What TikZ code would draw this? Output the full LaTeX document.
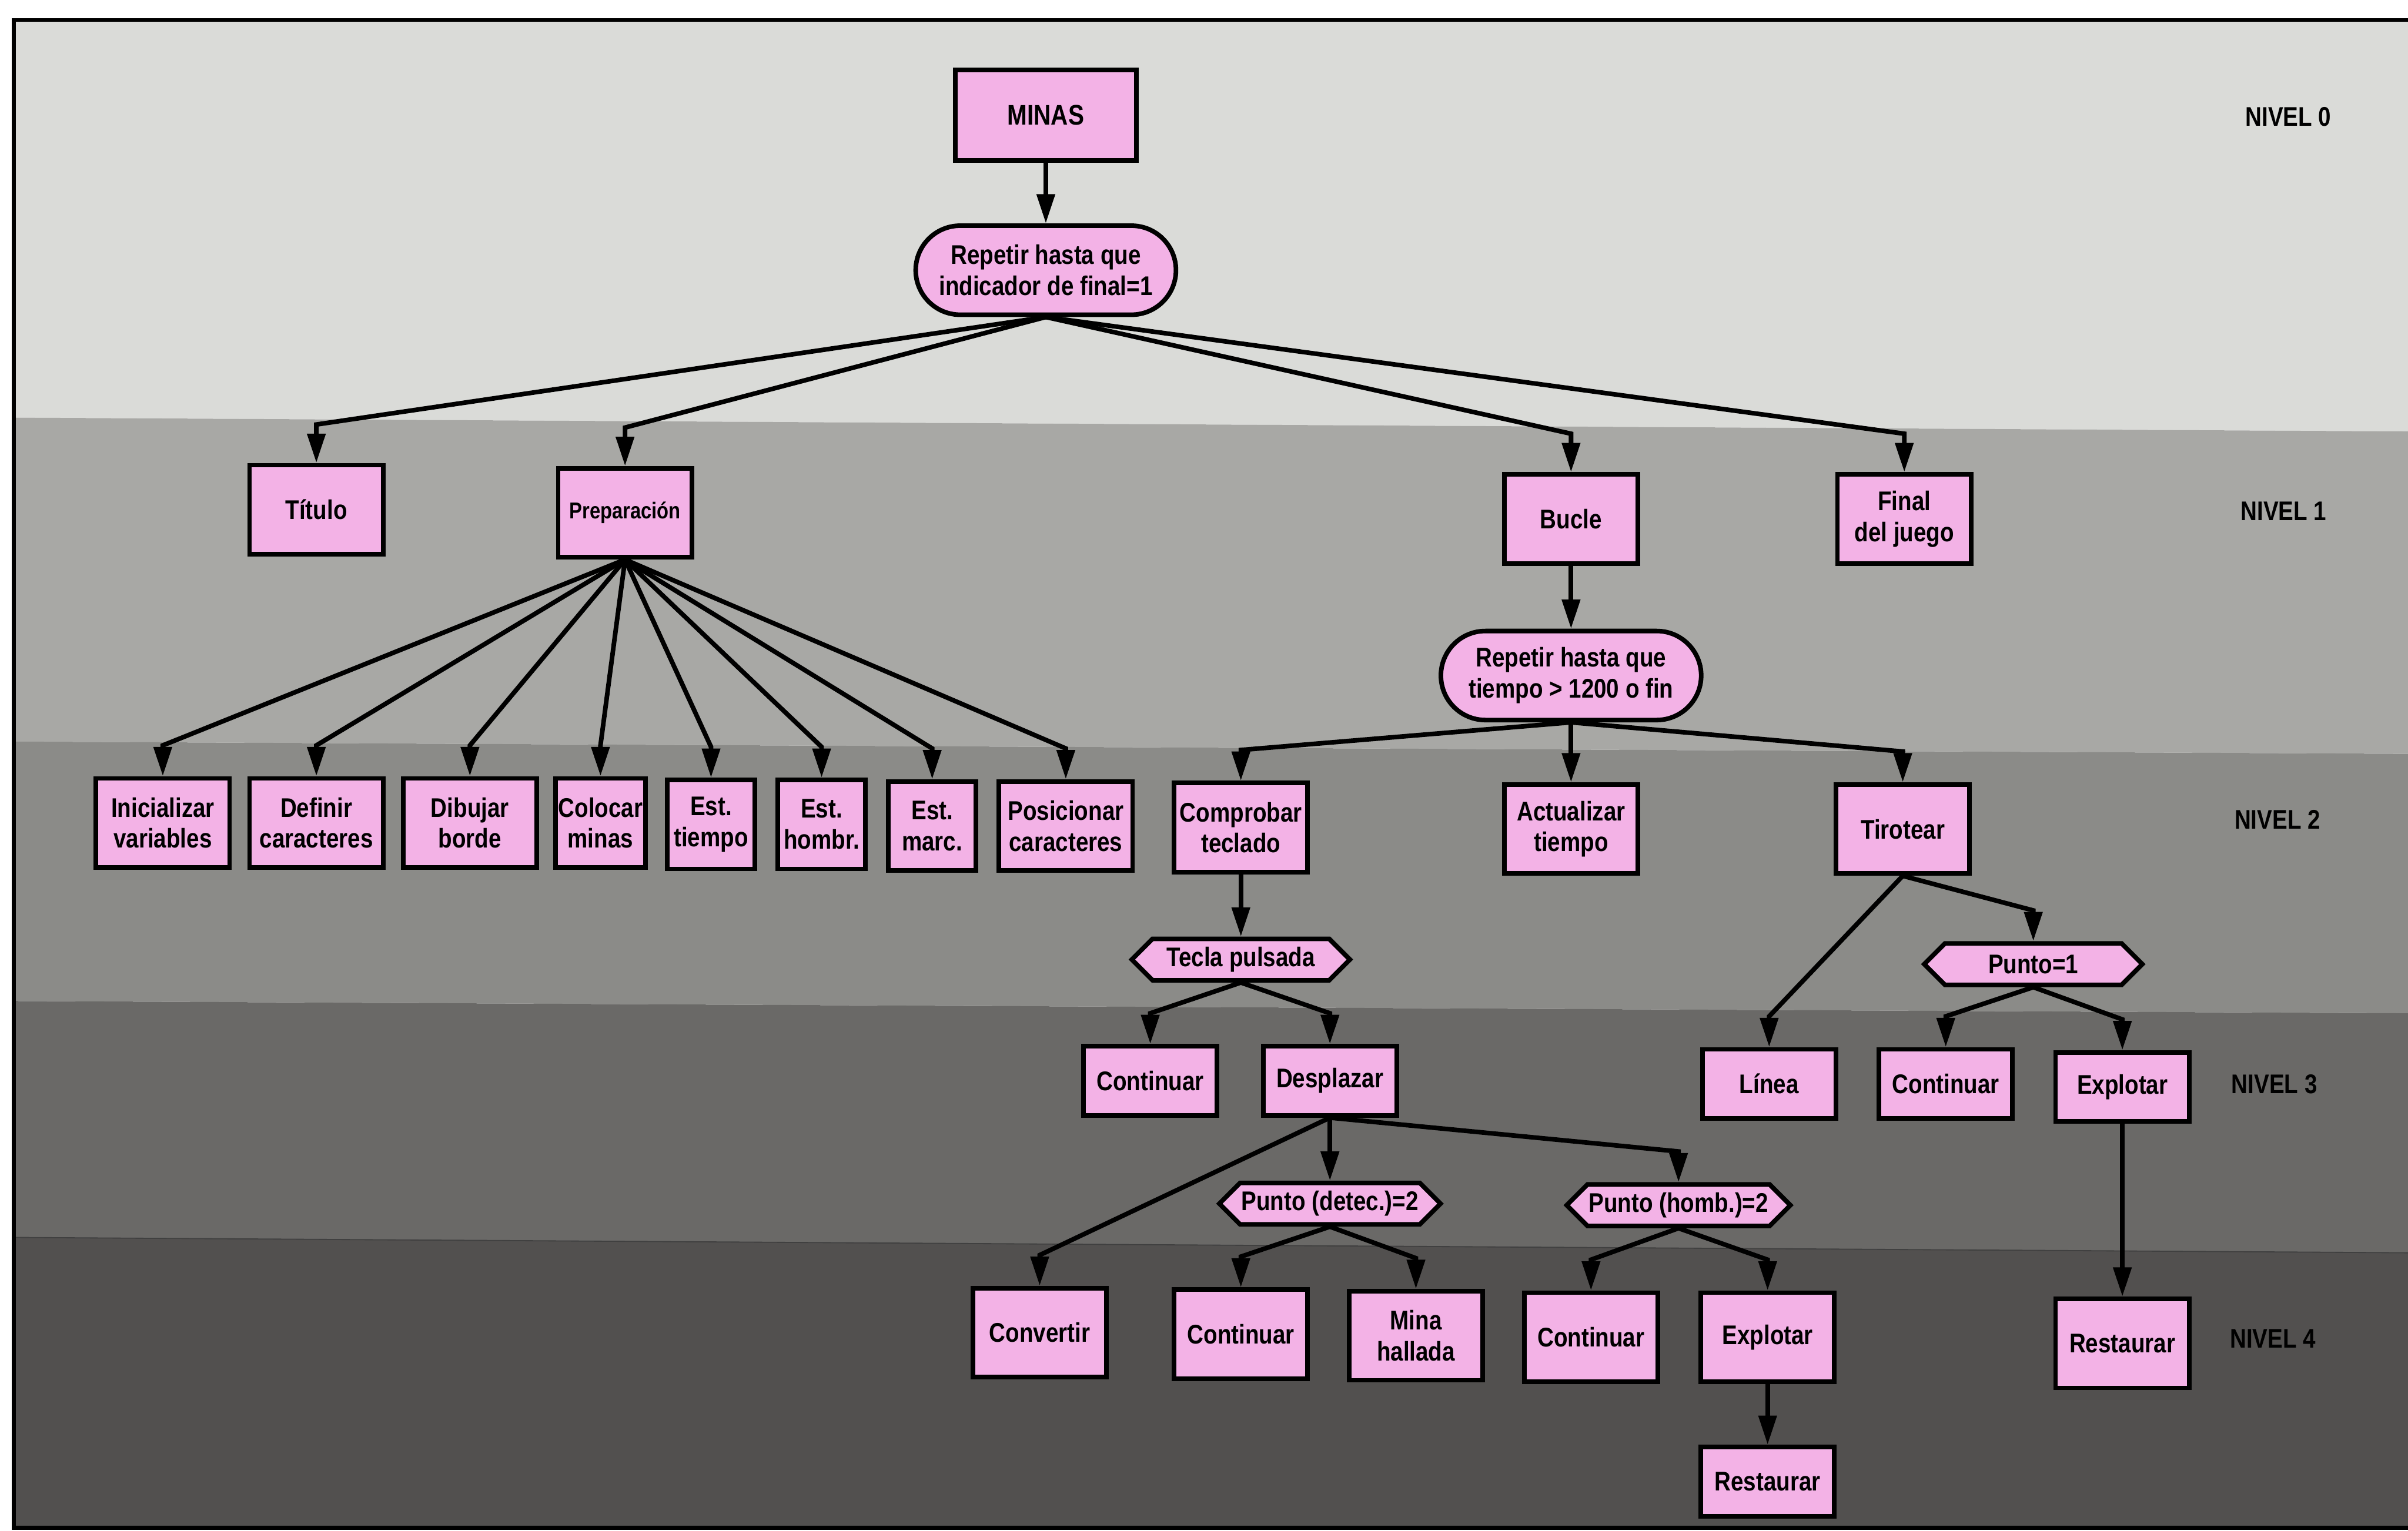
\documentclass[tikz,border=0pt]{standalone}
\usepackage{fontspec}
\setmainfont{Liberation Sans}[FakeStretch=0.84]
\usepackage{tikz}
\usetikzlibrary{shapes.misc, shapes.symbols, arrows.meta}

\definecolor{rosa}{RGB}{243,178,230}
\definecolor{bandaA}{RGB}{218,219,216}
\definecolor{bandaB}{RGB}{168,168,165}
\definecolor{bandaC}{RGB}{139,139,136}
\definecolor{bandaD}{RGB}{106,105,103}
\definecolor{bandaE}{RGB}{82,80,79}

\begin{document}
\begin{tikzpicture}[
    x=0.2mm, y=-0.2mm,
    every node/.style={font=\bfseries\fontsize{10}{11.5}\selectfont, align=center, inner sep=1pt},
    caja/.style={draw, fill=rosa, line width=1.7pt, minimum width=17.4mm, minimum height=11.6mm},
    estrecha/.style={caja, minimum width=11.4mm},
    baja/.style={caja, minimum height=9mm},
    repetir/.style={rounded rectangle, draw, fill=rosa, line width=1.7pt, minimum width=34.6mm, minimum height=11.6mm},
    cond/.style={signal, signal to=east and west, signal pointer angle=90, draw, fill=rosa,
                 line width=1.7pt, minimum width=28.4mm, minimum height=5.4mm, inner sep=0.5pt},
    flecha/.style={line width=1.7pt, -{Triangle[length=3.8mm, width=2.3mm]}},
    nivel/.style={font=\bfseries\fontsize{10}{12}\selectfont}
  ]
  \useasboundingbox (0,0) rectangle (1568,997);

  % Fondo con las bandas de nivel
  \fill[white] (0,0) rectangle (1568,997);
  \fill[bandaA] (9,13) -- (1568,13) -- (1568,281) -- (9,272) -- cycle;
  \fill[bandaB] (9,272) -- (1568,281) -- (1568,491) -- (9,483) -- cycle;
  \fill[bandaC] (9,483) -- (1568,491) -- (1568,660) -- (9,652) -- cycle;
  \fill[bandaD] (9,652) -- (1568,660) -- (1568,816) -- (9,806) -- cycle;
  \fill[bandaE] (9,806) -- (1568,816) -- (1568,995) -- (9,995) -- cycle;
  \draw[black!75, line width=0.4pt] (9,806) -- (1568,816);
  \draw[line width=1.5pt] (1568,13) -- (9,13) -- (9,995) -- (1568,995);

  \node[nivel] (n0) at (1490,76) {NIVEL 0};
  \node[nivel] (n1) at (1487,333) {NIVEL 1};
  \node[nivel] (n2) at (1483,534) {NIVEL 2};
  \node[nivel] (n3) at (1481,706) {NIVEL 3};
  \node[nivel] (n4) at (1480,872) {NIVEL 4};

  % Nivel 0
  \node[caja, minimum width=23.6mm, minimum height=11.8mm,
        font=\bfseries\fontsize{10.5}{12}\selectfont] (minas) at (681,75) {MINAS};
  \node[repetir] (rep1) at (681,176) {Repetir hasta que\\indicador de final=1};

  % Nivel 1
  \node[caja] (titulo) at (206,332) {Título};
  \node[caja, font=\bfseries\fontsize{8.5}{10}\selectfont] (prep) at (407,334) {Preparación};
  \node[caja] (bucle) at (1023,338) {Bucle};
  \node[caja] (final) at (1240,338) {Final\\del juego};
  \node[repetir] (rep2) at (1023,440) {Repetir hasta que\\tiempo > 1200 o fin};

  % Nivel 2
  \node[caja] (ini) at (106,536) {Inicializar\\variables};
  \node[caja] (defc) at (206,536) {Definir\\caracteres};
  \node[caja] (dib) at (306,536) {Dibujar\\borde};
  \node[estrecha] (col) at (391,536) {Colocar\\minas};
  \node[estrecha] (estt) at (463,537) {Est.\\tiempo};
  \node[estrecha] (esth) at (535,537) {Est.\\hombr.};
  \node[estrecha] (estm) at (607,538) {Est.\\marc.};
  \node[caja] (posc) at (694,538) {Posicionar\\caracteres};
  \node[caja] (comp) at (808,539) {Comprobar\\teclado};
  \node[caja] (act) at (1023,540) {Actualizar\\tiempo};
  \node[caja] (tiro) at (1239,540) {Tirotear};

  \node[cond] (tecla) at (808,625) {Tecla pulsada};
  \node[cond] (punto1) at (1324,628) {Punto=1};

  % Nivel 3
  \node[baja] (cont1) at (749,704) {Continuar};
  \node[baja] (despl) at (866,704) {Desplazar};
  \node[baja] (linea) at (1152,706) {Línea};
  \node[baja] (cont2) at (1267,706) {Continuar};
  \node[baja] (expl1) at (1382,708) {Explotar};

  \node[cond] (pdet) at (866,784) {Punto (detec.)=2};
  \node[cond] (phom) at (1093,785) {Punto (homb.)=2};

  % Nivel 4
  \node[caja] (conv) at (677,868) {Convertir};
  \node[caja] (cont3) at (808,869) {Continuar};
  \node[caja] (mina) at (922,870) {Mina\\hallada};
  \node[caja] (cont4) at (1036,871) {Continuar};
  \node[caja] (expl2) at (1151,871) {Explotar};
  \node[baja] (rest1) at (1151,965) {Restaurar};
  \node[caja] (rest2) at (1382,875) {Restaurar};

  % Conexiones
  \draw[flecha] (minas.south) -- (rep1.north);
  \foreach \c in {titulo,prep,bucle,final}
    \draw[flecha] (rep1.south) -- ([yshift=5mm]\c.north) -- (\c.north);
  \foreach \c in {ini,defc,dib,col,estt,esth,estm,posc}
    \draw[flecha] (prep.south) -- ([yshift=4mm]\c.north) -- (\c.north);
  \draw[flecha] (bucle.south) -- (rep2.north);
  \foreach \c in {comp,act,tiro}
    \draw[flecha] (rep2.south) -- ([yshift=4mm]\c.north) -- (\c.north);
  \draw[flecha] (comp.south) -- (tecla.north);
  \foreach \c in {cont1,despl}
    \draw[flecha] (tecla.south) -- ([yshift=4mm]\c.north) -- (\c.north);
  \foreach \c in {conv,pdet,phom}
    \draw[flecha] (despl.south) -- ([yshift=4mm]\c.north) -- (\c.north);
  \foreach \c in {cont3,mina}
    \draw[flecha] (pdet.south) -- ([yshift=4mm]\c.north) -- (\c.north);
  \foreach \c in {cont4,expl2}
    \draw[flecha] (phom.south) -- ([yshift=4mm]\c.north) -- (\c.north);
  \draw[flecha] (expl2.south) -- (rest1.north);
  \foreach \c in {linea,punto1}
    \draw[flecha] (tiro.south) -- ([yshift=4mm]\c.north) -- (\c.north);
  \foreach \c in {cont2,expl1}
    \draw[flecha] (punto1.south) -- ([yshift=4mm]\c.north) -- (\c.north);
  \draw[flecha] (expl1.south) -- (rest2.north);
\end{tikzpicture}
\end{document}
